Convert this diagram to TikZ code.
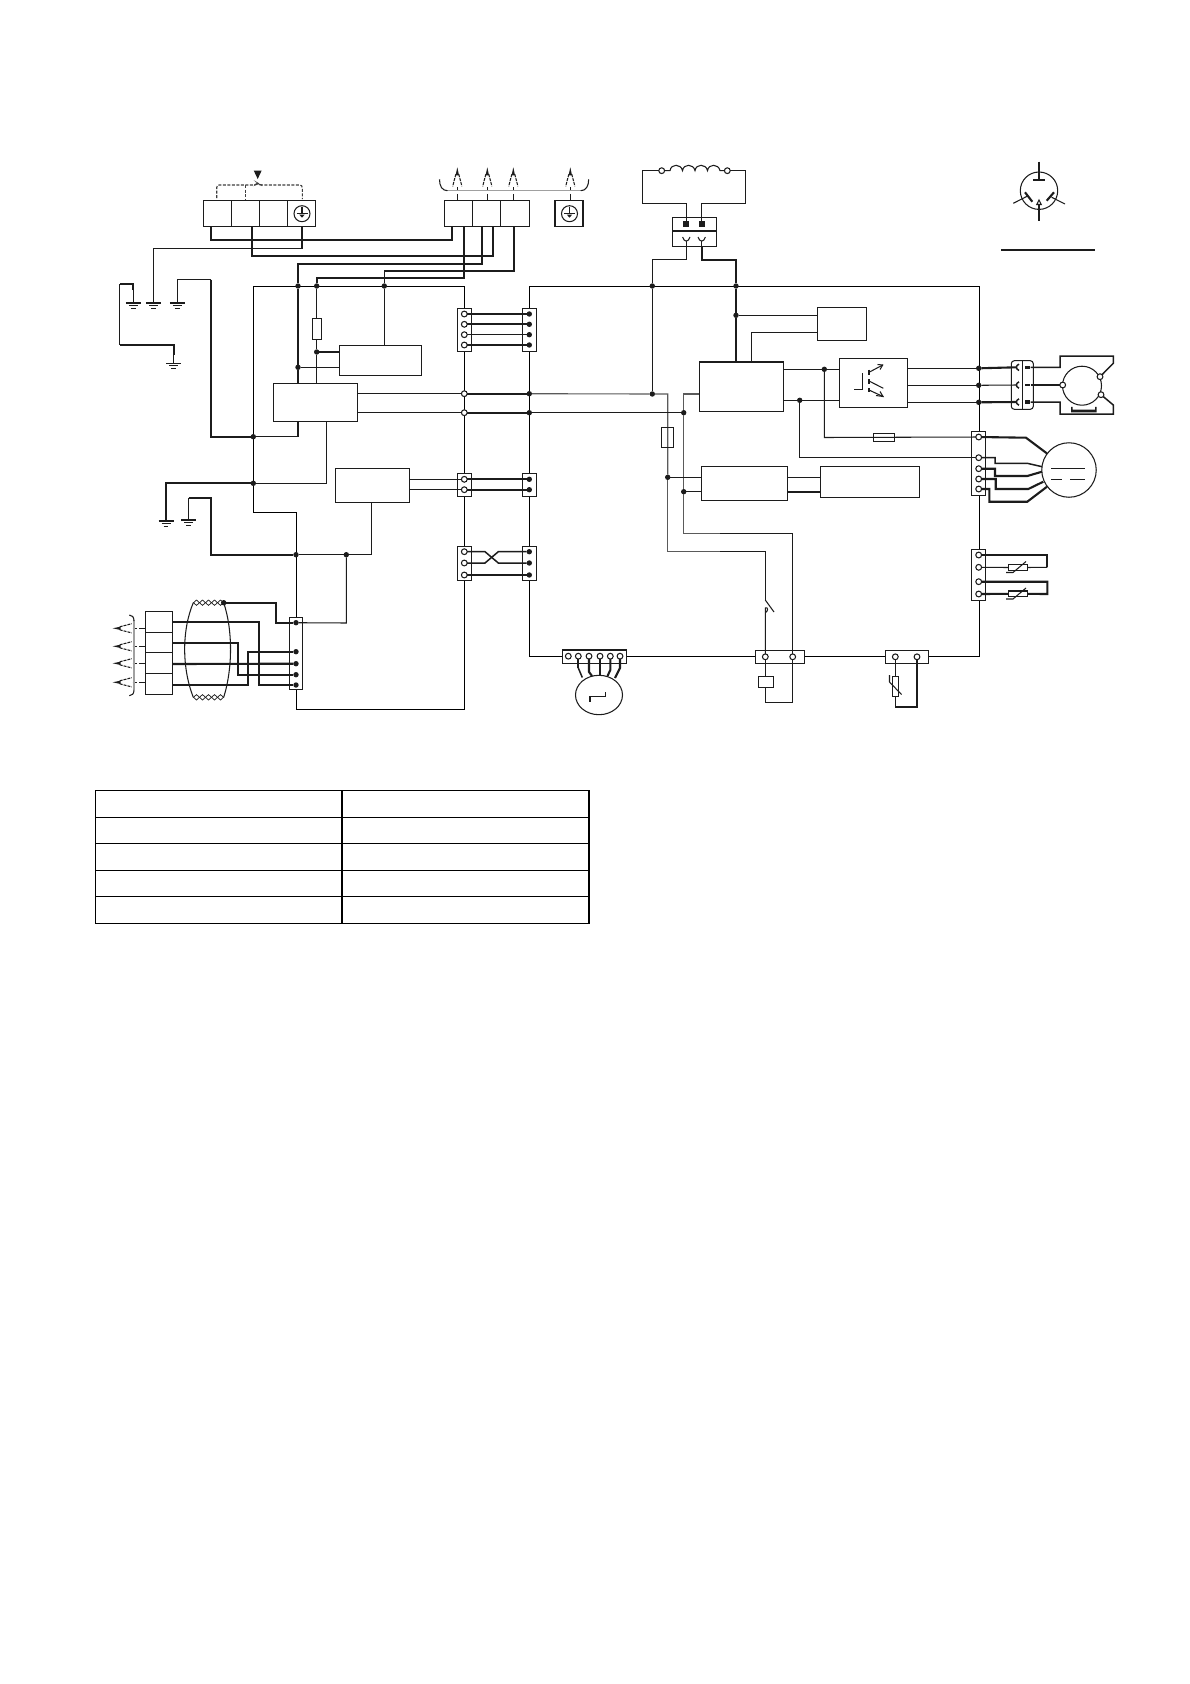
\documentclass[tikz,border=0pt]{standalone}
\usetikzlibrary{backgrounds,calc,shapes.geometric}
\definecolor{ink}{HTML}{1C1C1C}
\definecolor{wgray}{HTML}{5A5A5A}
\definecolor{bgray}{HTML}{A0A0A0}
\tikzset{
  thn/.style={line width=1.05pt},
  med/.style={line width=1.5pt},
  thk/.style={line width=2.1pt},
  gry/.style={line width=1.1pt,draw=wgray},
  bx/.style={draw,thn,fill=white,inner sep=0pt,outer sep=0pt},
  bxo/.style={draw,thn,inner sep=0pt,outer sep=0pt},
  dotp/.style={circle,fill=ink,inner sep=0pt,outer sep=0pt,minimum size=5.4pt},
  opn/.style={circle,draw,thn,fill=white,inner sep=0pt,outer sep=0pt,minimum size=5.8pt},
  dash1/.style={line width=1.1pt,dash pattern=on 3pt off 1.5pt,draw=ink!85!white}
}
\newcommand{\mkbox}[6][bx]{%
  \pgfmathsetmacro{\mkw}{#5-#3}\pgfmathsetmacro{\mkh}{#6-#4}%
  \pgfmathsetmacro{\mkx}{(#3+#5)/2}\pgfmathsetmacro{\mky}{(#4+#6)/2}%
  \node[#1,minimum width=\mkw pt,minimum height=\mkh pt] (#2) at (\mkx,\mky) {};}
\newcommand{\dn}[3]{\node[dotp] (#1) at (#2,#3) {};}
\newcommand{\on}[3]{\node[opn] (#1) at (#2,#3) {};}
\newcommand{\gnd}[3]{\coordinate (#1) at (#2,#3);
  \draw[thn] ($(#1)+(-7.5,0)$) -- ($(#1)+(7.5,0)$) ($(#1)+(-4.5,2.6)$) -- ($(#1)+(4.5,2.6)$) ($(#1)+(-2.4,5.2)$) -- ($(#1)+(2.4,5.2)$);}
\newcommand{\ant}[4]{\begin{scope}[shift={(#2,#3)},rotate=#4]
  \fill (0,0) -- (1.7,8) -- (-1.7,8) -- cycle;
  \draw[thn,dash pattern=on 3pt off 1pt] (-1.5,7) -- (-4.6,19);
  \draw[thn,dash pattern=on 3pt off 1pt] (1.5,7) -- (4.6,19);
  \draw[thn] (0,20) -- (0,24);
  \draw[thn] (0,26.5) -- (0,33);
  \coordinate (#1) at (0,33);
\end{scope}}
\newcommand{\grnd}[3]{\node[circle,draw,thn,inner sep=0pt,minimum size=16pt,outer sep=0pt] (#1) at (#2,#3) {};
  \draw[thn] (#2,#3-7) -- (#2,#3);\draw[med] (#2-5.5,#3) -- (#2+5.5,#3);\fill (#2-2.6,#3+1) -- (#2+2.6,#3+1) -- (#2,#3+4) -- cycle;}
\begin{document}
\begin{tikzpicture}[x=1pt,y=-1pt,color=ink,line join=miter,thn]
\useasboundingbox (0,0) rectangle (1190,1684);

% --- top terminal blocks
\mkbox{tbL}{203.3}{200.3}{315.7}{226.3}
\foreach \x in {231.3,259.3,287.3}{\draw (\x,200.3) -- (\x,226.3);}
\grnd{geL}{302}{213.7}
\mkbox{tbR}{444.3}{200.3}{529.3}{226.3}
\foreach \x in {472.7,500.7}{\draw (\x,200.3) -- (\x,226.3);}
\mkbox{tbE}{555}{200.3}{583}{226.3}
\grnd{geR}{569.5}{213.7}

% dashed fan on left block
\fill (253.7,170.5) -- (261.7,170.5) -- (257.7,179) -- cycle;
\coordinate (fanTop) at (257.7,183);
\draw[dash1,rounded corners=2.5pt] (216.7,198) -- (216.7,185) -- (255.5,185) -- (fanTop) -- (260,185) -- (302.3,185) -- (302.3,199);
\draw[dash1] (245.7,185) -- (245.7,199);

% antennas above right block
\ant{a1}{457.3}{167.3}{0}
\ant{a2}{487.3}{167.3}{0}
\ant{a3}{513.3}{167.3}{0}
\ant{a4}{570.3}{167.3}{0}
\draw[line width=1.5pt,draw=bgray] (446.5,190.7) -- (581.7,190.7);
\draw[thn] (439.5,179.3) .. controls (439.5,186) and (442,190.7) .. (447.5,190.7);
\draw[thn] (588.7,179.3) .. controls (588.7,186) and (586,190.7) .. (580.7,190.7);

% grounds
\gnd{g1}{133.3}{303}
\gnd{g2}{153.7}{303}
\gnd{g3}{177.3}{303}
\gnd{g4}{173.7}{363.3}
\gnd{g5}{166}{521}
\gnd{g6}{188.7}{520}

% pick-up points under the terminal blocks
\coordinate (tL1) at (210.7,226.3); \coordinate (tL2) at (251.7,226.3); \coordinate (tL3) at (302,226.3);
\coordinate (tR1) at (452,226.3); \coordinate (tR2) at (464,226.3); \coordinate (tR3) at (482,226.3);
\coordinate (tR4) at (493,226.3); \coordinate (tR5) at (514,226.3);

% --- junctions on the top rail
\dn{jA}{298}{286}\dn{jB}{316.7}{286}\dn{jC}{384.3}{286}
\dn{jD}{652.3}{286}\dn{jE}{736}{286}
\dn{jF}{316.7}{352}\dn{jG}{298}{367.3}
\dn{jH}{253.3}{436.7}\dn{jI}{253.3}{483.3}
\dn{jJ}{296}{554.7}\dn{jK}{346.3}{554.7}

% --- boxes
\mkbox{fuseA}{312.3}{318.3}{321.7}{339.3}
\mkbox{bxA}{339.3}{345.3}{421.7}{375.7}
\mkbox{bxB}{273.3}{383.3}{357.7}{421.7}
\mkbox{bxC}{335.3}{468.3}{409.3}{502.3}
\mkbox{bxD}{817.3}{307.3}{866.3}{340.3}
\mkbox{bxE}{699.3}{362}{783.7}{411.3}
\mkbox{bxF}{701.3}{466.3}{787.3}{500.3}
\mkbox{bxG}{820.3}{466.3}{919.3}{497.3}
\mkbox{bxH}{839.3}{358.3}{907.3}{407.3}

% --- connectors, left and right columns
\mkbox{cL1}{457.3}{308.3}{471.7}{351.7}
\mkbox{cR1}{522.3}{308.3}{536.7}{351.7}
\mkbox{cL2}{457.3}{473.3}{471.7}{496.3}
\mkbox{cR2}{522.3}{473.3}{536.7}{496.3}
\mkbox{cL3}{457.3}{546.7}{471.7}{580.3}
\mkbox{cR3}{522.3}{546.7}{536.7}{580.3}
\foreach \n/\y in {1/314,2/324.3,3/334.7,4/345}{\on{o1\n}{464.3}{\y}\dn{d1\n}{529.3}{\y}}
\foreach \n/\y in {1/479.3,2/489.7}{\on{o2\n}{464.3}{\y}\dn{d2\n}{529.3}{\y}}
\foreach \n/\y in {1/551.7,2/563,3/575}{\on{o3\n}{464.3}{\y}\dn{d3\n}{529.3}{\y}}
\on{oU}{464.3}{393.7}\on{oV}{464.3}{412.7}
\dn{dU}{529.3}{393.7}\dn{dV}{529.3}{412.7}

% --- wires from terminal blocks
\draw[thk] (tL1) -- (210.7,239.7) -- (452,239.7) -- (tR1);
\draw[thk] (tL2) -- (251.7,256) -- (493,256) -- (tR4);
\draw[thk] (tL3) -- (302,239.7);
\draw[med] (302,239.7) -- (302,248.3) -- (153.7,248.3) -- (153.7,297) -- (g2);
\draw[thk] (tR2) -- (464,278) -- (316.7,278) -- (jB);
\draw[thk] (tR3) -- (482,264) -- (298,264) -- (jA);
\draw[thk] (tR5) -- (514,271) -- (384.3,271);
\draw[thn] (384.3,271) -- (jC);
\draw[thk] (133.3,290) -- (133.3,284) -- (119.7,284);
\draw[thn] (g1) -- (133.3,290);
\draw[med] (119.7,284) -- (119.7,345);
\draw[thk] (119.7,345) -- (173.7,345) -- (173.7,355);
\draw[thn] (173.7,355) -- (g4);
\draw[thn] (g3) -- (177.3,279.7) -- (195,279.7);
\draw[med] (195,279.7) -- (210.7,279.7);
\draw[thk] (210.7,279.7) -- (210.7,436.7) -- (jH);

% box connections in the left half
\draw (jA) -- (jG) -- (jG |- bxB.north);
\draw (jB) -- (jB |- fuseA.north);
\draw (jB |- fuseA.south) -- (jF) -- (jF |- bxB.north);
\draw (jF) -- (jF -| bxA.west);
\draw (jG) -- (jG -| bxA.west);
\draw (jC) -- (jC |- bxA.north);
\draw (oU) -- (oU -| bxB.east);
\draw (oV) -- (oV -| bxB.east);
\draw[thk] (oU) -- (dU);
\draw[thk] (oV) -- (dV);
\foreach \n in {1,2}{\draw[thk] (o1\n) -- (d1\n);}
\foreach \n in {3,4}{\draw[med] (o1\n) -- (d1\n);}
\foreach \n in {1,2}{\draw[thk] (o2\n) -- (d2\n);\draw (o2\n) -- (o2\n -| bxC.east);}
\draw[med] (o31) -- (485,551.7) -- (498.3,563) -- (d32);
\draw[med] (o32) -- (485,563) -- (498.3,551.7) -- (d31);
\draw[thk] (o33) -- (d33);

\draw (298,421.7) -- (298,436.7) -- (jH);
\draw (326.7,421.7) -- (326.7,483.3) -- (jI);
\draw[thk] (jI) -- (166,483.3) -- (g5);
\draw (g6) -- (188.7,498);
\draw[thk] (188.7,498) -- (210.7,498) -- (210.7,554.7) -- (jJ);
\draw (jJ) -- (jK) -- (371.3,554.7) -- (371.3,502.3);

% --- lower-left harness
\mkbox{cH}{289.3}{617.3}{302.7}{689.3}
\dn{h1}{296}{622.7}\dn{h2}{296}{651.7}\dn{h3}{296}{663.7}\dn{h4}{296}{674.7}\dn{h5}{296}{685}
\mkbox{blk}{145.3}{611.3}{172.3}{694.3}
\foreach \y in {632.3,652.3,673.3}{\draw (145.3,\y) -- (172.3,\y);}
\dn{shd}{223.7}{602.7}
\draw (h1) -- (346.3,623) -- (jK);
\draw[thk] (shd) -- (276,602.7) -- (276,622.7) -- (h1);
\draw[thk] (172.3,622) -- (259,622) -- (259,685) -- (h5);
\draw[thk] (172.3,642.7) -- (238,642.7) -- (238,674.7) -- (h4);
\draw[thk] (172.3,664) -- (h3);
\draw[thk] (172.3,685) -- (248,685) -- (248,651.7) -- (h2);
\draw (193.3,602.7) .. controls (181.8,630) and (181.8,668) .. (193.3,697.3);
\draw (223.7,602.7) .. controls (232.8,630) and (232.8,668) .. (223.7,697.3);
\foreach \i in {0,1,2,3,4}{
  \pgfmathsetmacro{\xa}{193.5+6*\i}
  \draw[line width=0.7pt] (\xa,602.7) -- (\xa+3,600) -- (\xa+6,602.7) -- (\xa+3,605.4) -- cycle;
  \draw[line width=0.7pt] (\xa,697.3) -- (\xa+3,694.6) -- (\xa+6,697.3) -- (\xa+3,700) -- cycle;
}
\foreach \n/\y in {1/628.3,2/646.3,3/663.3,4/682.3}{\ant{l\n}{112.7}{\y}{90}}
\draw[line width=1.5pt,draw=bgray] (134,620) -- (134,690);
\draw (129.3,615) .. controls (132,615) and (134,617) .. (134,621);
\draw (129.3,695.7) .. controls (132,695.7) and (134,693.7) .. (134,690);

% --- choke and its connector
\on{cA}{661.7}{170.7}\on{cB}{727.3}{170.7}
\draw (cA) -- (670,170.7)
  .. controls (671,163.5) and (681,163.5) .. (682.5,170.7)
  .. controls (683.5,163.5) and (693.5,163.5) .. (695,170.7)
  .. controls (696,163.5) and (706,163.5) .. (707.5,170.7)
  .. controls (708.5,163.5) and (718.5,163.5) .. (720,170.7) -- (cB);
\mkbox{cC}{672.3}{217.3}{716.7}{246.7}
\draw (672.3,231) -- (716.7,231);
\node[fill=ink,minimum size=6pt,inner sep=0pt] (sq1) at (686.3,224.3) {};
\node[fill=ink,minimum size=6pt,inner sep=0pt] (sq2) at (701.7,224.3) {};
\draw[med] (cA) -- (642.7,170.7) -- (642.7,203.7) -- (686.3,203.7) -- (sq1);
\draw[med] (cB) -- (745.3,170.7) -- (745.3,203.7) -- (701.7,203.7) -- (sq2);
\foreach \x in {686.3,701.7}{\draw (\x-3.7,237) .. controls (\x-2,242.5) and (\x+2,242.5) .. (\x+3.7,237);\draw (\x,240.8) -- (\x,246.7);}
\coordinate (cC1) at (686.3,246.7); \coordinate (cC2) at (701.7,246.7);
\draw[med] (cC1) -- (686.3,259.7) -- (652.3,259.7) -- (jD);
\draw[thk] (cC2) -- (701.7,259.7) -- (736,259.7) -- (jE);

% --- right half connections
\dn{jL}{736}{315.3}\dn{jM}{652.3}{394}\dn{jN}{683.7}{412.7}
\dn{jO}{824.3}{369.3}\dn{jP}{799.7}{400.3}
\dn{jQ}{667.7}{477.3}\dn{jR}{683.7}{491.7}
\draw (jD) -- (jM);
\draw (jE) -- (jL) -- (jL |- bxE.north);
\draw (jL) -- (jL -| bxD.west);
\draw (751.3,362) -- (751.3,332.3) -- (817.3,332.3);
\draw[gry] (dU) -- (jM) -- (667.7,394) -- (jQ);
\draw[gry] (699.3,394) -- (683.7,394) -- (jN) -- (jR);
\draw (dV) -- (jN);
\mkbox[bxo]{fuseB}{661.3}{427.3}{673.7}{447.3}
\draw (jQ) -- (jQ -| bxF.west);
\draw (jR) -- (jR -| bxF.west);
\draw (787.3,477.3) -- (820.3,477.3) (787.3,492) -- (820.3,492);

% lower connectors
\mkbox{cM}{562.7}{650}{626.7}{663.3}
\foreach \n/\x in {1/568.3,2/578.3,3/589,4/600,5/610.3,6/620}{\on{m\n}{\x}{656.2}}
\node[ellipse,draw,thn,minimum width=47pt,minimum height=39.4pt,inner sep=0pt] (mot) at (599,695) {};
\draw[thk] (m2) -- (578.3,668);
\draw[med] (578.3,668) -- (582.3,677.5);
\draw[thk] (m3) -- (589,672) -- (592,676);
\draw[thk] (m4) -- (600,675.5);
\draw[thk] (m5) -- (610.3,670) -- (607.5,676);
\draw[thk] (m6) -- (620,668) -- (615,678);
\draw (590,701.7) -- (590,696.7) -- (605.7,696.7) -- (605.7,692.3);

\mkbox{cS}{755.3}{650.3}{804.3}{663.3}
\on{s1}{765.3}{656.8}\on{s2}{792.7}{656.8}
\mkbox{rly}{758.3}{676.3}{773.7}{687.7}
\draw (s1) -- (s1 |- rly.north);
\draw (765.3,687.7) -- (765.3,702.3) -- (792.7,702.3) -- (s2);
\draw[gry] (jQ) -- (667.7,551.3) -- (720,551.3);
\draw (720,551.3) -- (765.3,551.3) -- (765.3,600);
\draw (765.3,600) -- (774,612);
\draw (s1) -- (765.3,608) .. controls (768,606.5) and (768.5,611) .. (765.5,612.5);
\draw[gry] (jR) -- (683.7,533.3) -- (720,533.3);
\draw (720,533.3) -- (792.7,533.3) -- (s2);

\mkbox{cT}{885.3}{650.3}{928.3}{663.3}
\on{t1}{895.3}{656.8}\on{t2}{917}{656.8}
\mkbox{thm}{892.3}{676.3}{898.7}{696.3}
\draw (t1) -- (t1 |- thm.north);
\draw (895.3,696.3) -- (895.3,707.3);
\draw[thk] (895.3,707.3) -- (917,707.3) -- (t2);
\draw (889.5,675) -- (889.5,682) -- (901.5,694.5);

% --- fan-side wiring: box E, H, D
\draw (783.7,369.3) -- (jO) -- (839.3,369.3);
\draw (783.7,400.3) -- (jP) -- (839.3,400.3);
\dn{r1}{978.7}{368.3}\dn{r2}{978.7}{385.3}\dn{r3}{978.7}{402.3}
\draw (bxH.east |- r1) -- (r1);
\draw (bxH.east |- r2) -- (r2);
\draw (bxH.east |- r3) -- (r3);
% inside H
\draw (862.3,373.3) -- (862.3,389.3) -- (854,389.3);
\draw[med] (869,369.5) -- (869,375) (869,379) -- (869,384.3) (869,388.3) -- (869,392.3);
\draw (869,372.3) -- (882.7,365) (869,381) -- (883.3,388.3) (869,390) -- (883.3,396.7);
\draw (877.5,364.5) -- (882.7,365) -- (880,369.5);
\draw (876,395.5) -- (883,396.5) -- (880,391.5);

% right connector, motor
\mkbox{cK}{971.3}{431.3}{985.7}{495.3}
\foreach \n/\y in {1/437,2/457.7,3/468.7,4/479,5/489}{\on{k\n}{978.7}{\y}}
\mkbox[bxo]{fuseC}{873.3}{433.3}{894.7}{441.7}
\draw (jO) -- (824.3,437.5) -- (k1);
\draw (jP) -- (799.7,457.7) -- (k2);
\node[circle,draw,thn,minimum size=54.5pt,inner sep=0pt] (fan) at (1069,470) {};
\draw (1051,468.3) -- (1085,468.3) (1051,479.3) -- (1061.7,479.3) (1070,479.3) -- (1085,479.3);
\draw[thk] (k1) -- (1026,437.7) -- (1047,453.5);
\draw[med] (k2) -- (995,457.7) -- (995,463.3) -- (1027.3,463.3) -- (1042,466.7);
\draw[thk] (k3) -- (995,468.7) -- (995,476) -- (1027.3,476) -- (1042,471.7);
\draw[thk] (k4) -- (995.7,479) -- (995.7,489) -- (1028.3,489) -- (1043.3,481.7);
\draw[thk] (k5) -- (989.3,489) -- (989.3,501.7) -- (1027.3,501.7) -- (1047,486.7);

% thermistors
\mkbox{cN}{971.3}{549.3}{985.7}{600.3}
\on{n1}{978.7}{555}\on{n2}{978.7}{567.3}\on{n3}{978.7}{581.7}\on{n4}{978.7}{594}
\mkbox{th1}{1008.3}{564.3}{1027.3}{570.7}
\mkbox{th2}{1008.3}{591}{1027.3}{596.7}
\draw[thk] (n1) -- (1047.3,555) -- (1047.3,567.3);
\draw (1047.3,567.3) -- (th1.east);
\draw (n2) -- (th1.west);
\draw[thk] (n3) -- (1047.3,581.7) -- (1047.3,594) -- (th2.east);
\draw[thk] (n4) -- (th2.west);
\draw (1006,572.5) -- (1013,572.5) -- (1026,561.5);
\draw (1006,599) -- (1013,599) -- (1026,588);

% compressor connector and compressor
\node[draw,thn,rounded corners=3pt,fill=white,minimum width=22pt,minimum height=48.6pt,inner sep=0pt] (cP) at (1022.3,385) {};
\draw (1022.3,360.7) -- (1022.3,409.3);
\foreach \n/\y/\h in {1/367.3/3.4,2/385/2.6,3/402/3.4}{
  \draw[med] (1019,\y-3.2) .. controls (1015.5,\y-1.5) and (1015.5,\y+1.5) .. (1019,\y+3.2);
  \node[fill=ink,minimum width=4.6pt,minimum height=\h pt,inner sep=0pt] (q\n) at (1027.7,\y) {};
}
\draw[thk] (r1) -- (1016,367.3);
\draw (r2) -- (1016,385);
\draw[thk] (r3) -- (1016,402);
\node[circle,draw,thn,minimum size=39pt,inner sep=0pt] (comp) at (1082,385.7) {};
\on{p1}{1062.7}{385}\on{p2}{1100}{376.7}\on{p3}{1101}{394.7}
\draw (q2) -- (p1);
\draw[med] (q1) -- (1060,367.3) -- (1060,356) -- (1113.3,356) -- (1113.3,363.3) -- (p2);
\draw[med] (q3) -- (1060,402) -- (1060,414) -- (1113.3,414) -- (1113.3,405) -- (p3);
\fill (1071,406.8) -- (1072.5,406.8) -- (1072.5,409.5) -- (1095.2,409.5) -- (1095.2,406.8) -- (1096.7,406.8) -- (1096.7,412.4) -- (1071,412.4) -- cycle;

% legend plug
\node[circle,draw,thn,minimum size=37.4pt,inner sep=0pt] (plug) at (1039,190.7) {};
\draw (1039,161.7) -- (1039,179);
\draw[med] (1033.3,180) -- (1045,180);
\draw (1013.3,203.3) -- (1027,196.3);
\draw[thk] (1025,192.3) -- (1032.3,201.7);
\draw (1065,204) -- (1051.7,197.3);
\draw[thk] (1046.7,200.7) -- (1054,192.3);
\draw (1039,220.7) -- (1039,205);
\draw (1036.8,204.5) -- (1039,200) -- (1041.2,204.5) -- cycle;
\coordinate (lgA) at (1001.3,250); \coordinate (lgB) at (1095,250);
\draw (lgA) -- (lgB);

% table
\coordinate (tabNW) at (95.5,790.3); \coordinate (tabSE) at (589,923.3);
\draw[line width=1.1pt,draw=black] (tabNW) rectangle (tabSE);
\foreach \y in {817.3,843.3,870.3,896.3}{\draw[line width=1.1pt,draw=black] (95.5,\y) -- (589,\y);}
\draw[line width=1.1pt,draw=black] (342,790.3) -- (342,923.3);

% --- rails, kept behind connectors and dots
\begin{scope}[on background layer]
\fill[white] (0,0) rectangle (1190,1684);
\draw (253.3,512.3) -- (253.3,286) -- (464.3,286) -- (464.3,709.3) -- (296.3,709.3) -- (296.3,680);
\draw (253.3,512.3) -- (296.3,512.3) -- (296.3,630);
\draw (529.3,656.5) -- (529.3,286) -- (978.7,286) -- (978.7,656.5) -- (928.3,656.5);
\draw (529.3,656.5) -- (755.3,656.5) (804.3,656.5) -- (885.3,656.5);
\end{scope}
\end{tikzpicture}
\end{document}
